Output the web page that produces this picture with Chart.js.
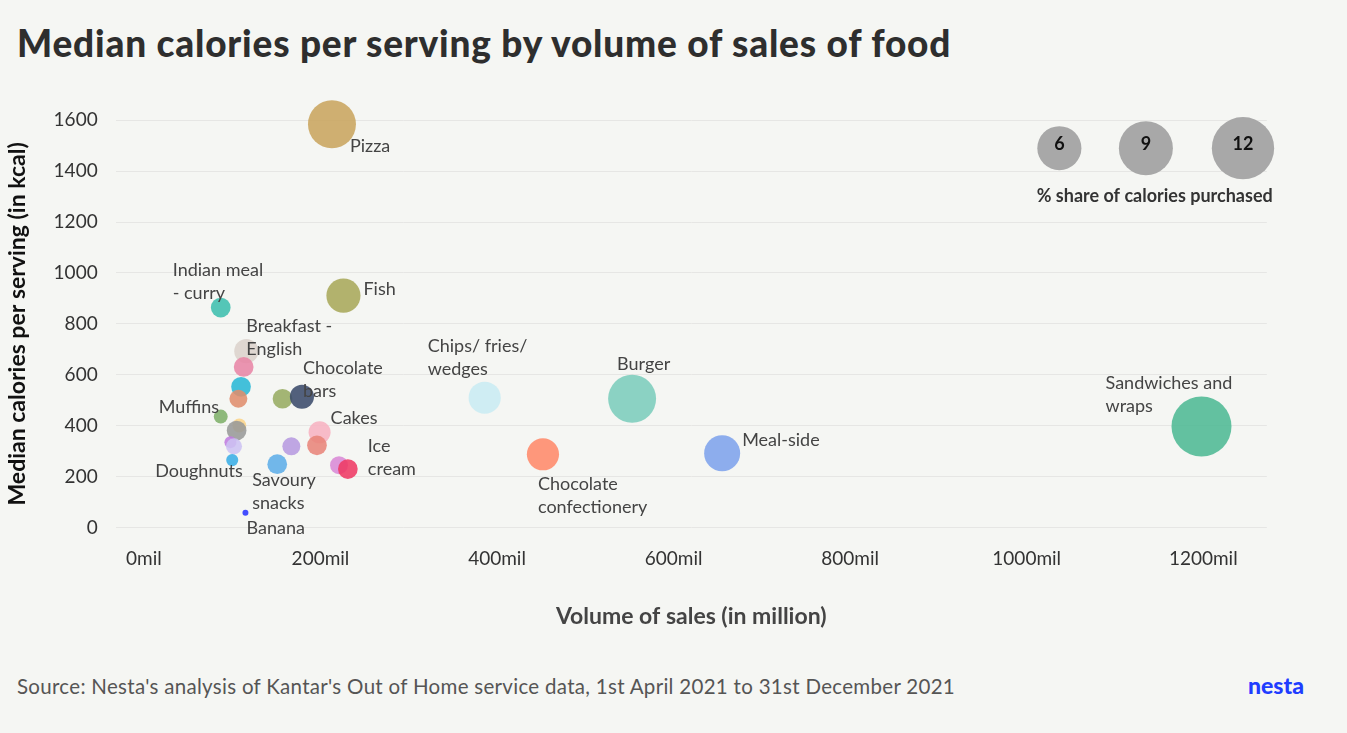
<!DOCTYPE html>
<html><head><meta charset="utf-8">
<script src="https://cdn.jsdelivr.net/npm/chart.js@4"></script>
<style>
body{margin:0;background:#f5f6f3;width:1347px;height:733px;overflow:hidden;font-family:Lato,"Open Sans",sans-serif;}
#t{position:absolute;left:17px;top:20px;font-size:37px;font-weight:900;color:#2e2e2e;letter-spacing:0.8px;}
#s{position:absolute;left:17px;top:674px;font-size:20.5px;color:#555;letter-spacing:0.3px;}
#n{position:absolute;left:1248px;top:671px;font-size:23px;font-weight:900;color:#1f3dff;}
#w{position:absolute;left:0px;top:89px;width:1298px;height:545px;}
</style></head><body>
<div id="t">Median calories per serving by volume of sales of food</div>
<div id="w"><canvas id="c"></canvas></div>
<div id="s">Source: Nesta's analysis of Kantar's Out of Home service data, 1st April 2021 to 31st December 2021</div>
<div id="n">nesta</div>
<script>
const names=["Pizza","Fish","Indian meal - curry","Breakfast - English","Pink item","Cyan item","Orange item","Green item","Chocolate bars","Muffins","Yellow item","Grey item","Purple item","Lavender item","Doughnuts","Savoury snacks","Violet item","Cakes","Salmon item","Orchid item","Ice cream","Banana","Chips/ fries/ wedges","Chocolate confectionery","Burger","Meal-side","Sandwiches and wraps"];
const volume=[213,226,87,116,113,110,107,157,179,87,108,105,98,102,100,151,167,199,196,221,231,115,386,452,553,655,1198];
const kcal=[1584,911,864,693,631,553,506,506,514,436,401,381,335,319,265,249,319,374,323,245,230,58,510,288,506,292,397];
const share=[7.1,3.6,1.2,1.8,1.2,1.2,1.0,1.2,1.8,0.6,0.6,1.2,0.45,0.8,0.45,1.2,1.0,1.5,1.2,1.0,1.2,0.11,3.2,3.2,7.1,4.0,11.1];
const colors=["#c9a55e","#a9a95a","#3dbfae","#dcd3cc","#e886a6","#2ab8d6","#e08e6d","#97ac62","#3b4b6b","#7fb06a","#fcd58a","#999a98","#c07de0","#cdc3f3","#3aaee6","#5faee8","#b79be0","#f7b3c2","#e8857a","#d98ad6","#ef3a64","#2a35ff","#c9ecf2","#ff8a6a","#7ccdbc","#7ea3ec","#4fba94"];
const legendShare=[6,9,12];
const labels={ "Pizza":[[18,22],["Pizza"]],"Fish":[[20,-6],["Fish"]],"Indian meal - curry":[[-48,-37],["Indian meal","- curry"]],"Breakfast - English":[[0,-25],["Breakfast -","English"]],"Chocolate bars":[[1,-29],["Chocolate","bars"]],"Muffins":[[-62,-9],["Muffins"]],"Doughnuts":[[-77,11],["Doughnuts"]],"Savoury snacks":[[-25,16],["Savoury","snacks"]],"Cakes":[[11,-14],["Cakes"]],"Ice cream":[[20,-23],["Ice","cream"]],"Banana":[[1,15],["Banana"]],"Chips/ fries/ wedges":[[-57,-52],["Chips/ fries/","wedges"]],"Chocolate confectionery":[[-5,30],["Chocolate","confectionery"]],"Burger":[[-15,-35],["Burger"]],"Meal-side":[[20,-13],["Meal-side"]],"Sandwiches and wraps":[[-96,-43],["Sandwiches and","wraps"]]};
const rad=s=>9*Math.sqrt(s);
const lblPlugin={id:'lbl',afterDatasetsDraw(ch){
 const c=ch.ctx,xs=ch.scales.x,ys=ch.scales.y;c.save();
 c.font='18px Lato, "Open Sans", sans-serif';c.fillStyle='#444';c.textBaseline='middle';
 names.forEach((n,i)=>{const l=labels[n];if(!l)return;const px=xs.getPixelForValue(volume[i]),py=ys.getPixelForValue(kcal[i]);
  l[1].forEach((t,k)=>c.fillText(t,px+l[0][0],py+l[0][1]+k*23));});
 const ds=ch.getDatasetMeta(1).data;c.font='bold 18px Lato, sans-serif';c.textAlign='center';c.fillStyle='#111';
 ds.forEach((p,i)=>c.fillText(String(legendShare[i]),p.x,p.y-4));
 c.fillStyle='#333';c.fillText('% share of calories purchased',xs.getPixelForValue(1145),ys.getPixelForValue(1490)+48);
 c.restore();}};
new Chart(document.getElementById('c'),{type:'bubble',
 data:{datasets:[
  {data:volume.map((v,i)=>({x:v,y:kcal[i],r:rad(share[i])})),backgroundColor:colors.map(c=>c+'e0'),borderWidth:0,clip:false},
  {data:legendShare.map((s,i)=>({x:[1037,1135,1245][i],y:1490,r:rad(s)})),backgroundColor:'#a8a8a8',borderWidth:0,clip:false}]},
 options:{responsive:true,maintainAspectRatio:false,animation:false,events:[],
  layout:{padding:{top:20}},
  plugins:{legend:{display:false},tooltip:{enabled:false}},
  scales:{
   x:{type:'linear',min:-32,max:1272,afterBuildTicks:a=>{a.ticks=[0,200,400,600,800,1000,1200].map(v=>({value:v}))},
    grid:{display:false},border:{display:false},
    ticks:{callback:v=>v+'mil',color:'#333',font:{size:19,family:'Lato'},padding:12},
    title:{display:true,text:'Volume of sales (in million)',color:'#444',font:{size:23,weight:'bold',family:'Lato'},padding:{top:20}}},
   y:{min:0,max:1600,ticks:{stepSize:200,callback:v=>String(v),color:'#333',font:{size:19,family:'Lato'},padding:18},
    grid:{color:'#e6e6e4',drawTicks:false},border:{display:false},
    title:{display:true,text:'Median calories per serving (in kcal)',color:'#111',font:{size:23,weight:'bold',family:'Lato'}}}}},
 plugins:[lblPlugin]});
</script></body></html>
